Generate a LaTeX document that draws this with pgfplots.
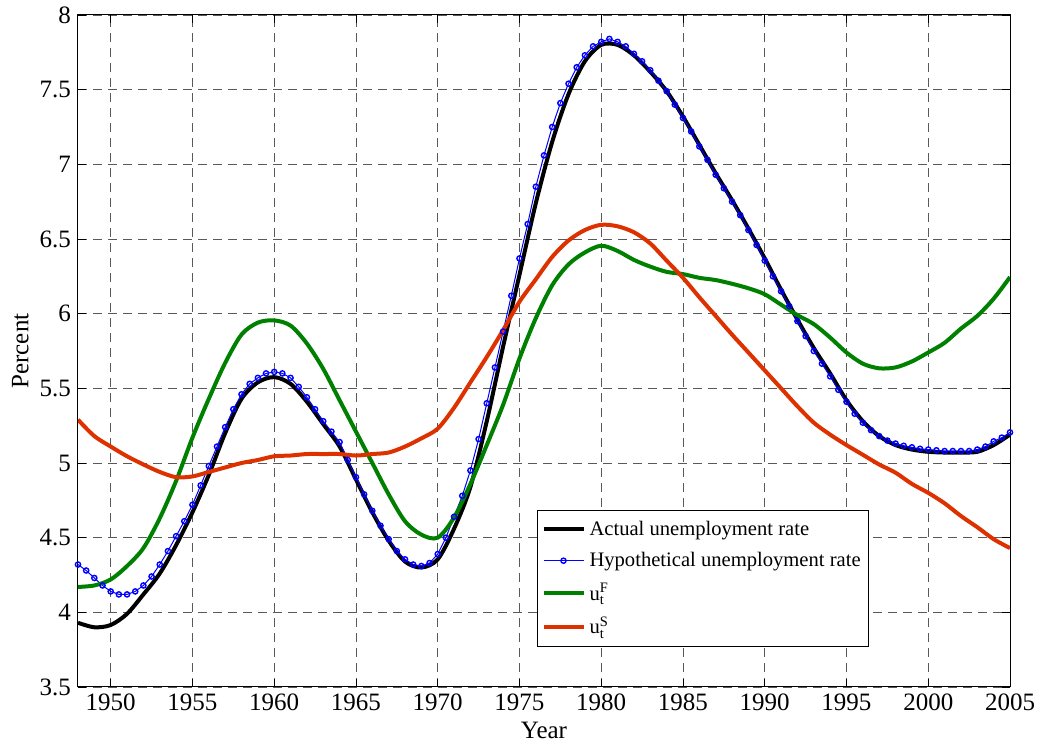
\documentclass[border=0pt]{standalone}
\usepackage{fontspec}
\setmainfont{Liberation Serif}
\usepackage{amsmath}
\usepackage{pgfplots}
\pgfplotsset{compat=1.18}
\usepackage{pgfplotstable}

\definecolor{ured}{RGB}{222,49,0}
\definecolor{ugreen}{RGB}{0,128,0}

% actual unemployment rate
\pgfplotstableread{
year val
1948 3.93
1949 3.90
1950 3.915
1951 3.99
1952 4.12
1953 4.26
1954 4.45
1955 4.67
1956 4.92
1957 5.20
1958 5.43
1959 5.54
1960 5.575
1961 5.53
1962 5.41
1963 5.26
1964 5.11
1965 4.89
1966 4.67
1967 4.48
1968 4.34
1969 4.30
1970 4.355
1971 4.56
1972 4.84
1973 5.28
1974 5.78
1975 6.26
1976 6.74
1977 7.15
1978 7.47
1979 7.69
1980 7.80
1981 7.80
1982 7.73
1983 7.62
1984 7.49
1985 7.32
1986 7.13
1987 6.94
1988 6.76
1989 6.57
1990 6.37
1991 6.16
1992 5.96
1993 5.77
1994 5.60
1995 5.42
1996 5.28
1997 5.18
1998 5.12
1999 5.09
2000 5.075
2001 5.07
2002 5.07
2003 5.075
2004 5.12
2005 5.19
}\actual

% hypothetical unemployment rate
\pgfplotstableread{
year val
1948.0 4.32
1948.5 4.28
1949.0 4.23
1949.5 4.18
1950.0 4.14
1950.5 4.12
1951.0 4.12
1951.5 4.14
1952.0 4.18
1952.5 4.24
1953.0 4.32
1953.5 4.41
1954.0 4.51
1954.5 4.61
1955.0 4.72
1955.5 4.85
1956.0 4.98
1956.5 5.11
1957.0 5.24
1957.5 5.36
1958.0 5.46
1958.5 5.53
1959.0 5.57
1959.5 5.60
1960.0 5.61
1960.5 5.60
1961.0 5.57
1961.5 5.51
1962.0 5.44
1962.5 5.36
1963.0 5.28
1963.5 5.21
1964.0 5.14
1964.5 5.02
1965.0 4.905
1965.5 4.79
1966.0 4.68
1966.5 4.58
1967.0 4.49
1967.5 4.41
1968.0 4.355
1968.5 4.32
1969.0 4.31
1969.5 4.33
1970.0 4.39
1970.5 4.50
1971.0 4.64
1971.5 4.78
1972.0 4.95
1972.5 5.16
1973.0 5.40
1973.5 5.64
1974.0 5.88
1974.5 6.12
1975.0 6.37
1975.5 6.60
1976.0 6.85
1976.5 7.06
1977.0 7.25
1977.5 7.41
1978.0 7.54
1978.5 7.65
1979.0 7.73
1979.5 7.79
1980.0 7.82
1980.5 7.84
1981.0 7.82
1981.5 7.79
1982.0 7.74
1982.5 7.69
1983.0 7.63
1983.5 7.56
1984.0 7.49
1984.5 7.40
1985.0 7.31
1985.5 7.22
1986.0 7.12
1986.5 7.03
1987.0 6.93
1987.5 6.84
1988.0 6.75
1988.5 6.66
1989.0 6.56
1989.5 6.46
1990.0 6.355
1990.5 6.25
1991.0 6.15
1991.5 6.05
1992.0 5.95
1992.5 5.85
1993.0 5.75
1993.5 5.665
1994.0 5.58
1994.5 5.49
1995.0 5.41
1995.5 5.33
1996.0 5.27
1996.5 5.22
1997.0 5.18
1997.5 5.15
1998.0 5.13
1998.5 5.115
1999.0 5.105
1999.5 5.095
2000.0 5.09
2000.5 5.085
2001.0 5.08
2001.5 5.08
2002.0 5.08
2002.5 5.08
2003.0 5.09
2003.5 5.11
2004.0 5.145
2004.5 5.17
2005.0 5.205
}\hypo

% u^F_t
\pgfplotstableread{
year val
1948 4.17
1949 4.18
1950 4.22
1951 4.31
1952 4.43
1953 4.63
1954 4.88
1955 5.17
1956 5.43
1957 5.67
1958 5.86
1959 5.94
1960 5.955
1961 5.92
1962 5.80
1963 5.63
1964 5.42
1965 5.21
1966 5.00
1967 4.79
1968 4.61
1969 4.52
1970 4.50
1971 4.635
1972 4.86
1973 5.12
1974 5.39
1975 5.70
1976 5.97
1977 6.19
1978 6.33
1979 6.41
1980 6.455
1981 6.42
1982 6.36
1983 6.315
1984 6.28
1985 6.265
1986 6.24
1987 6.225
1988 6.20
1989 6.17
1990 6.13
1991 6.06
1992 5.99
1993 5.93
1994 5.84
1995 5.74
1996 5.665
1997 5.634
1998 5.64
1999 5.68
2000 5.74
2001 5.805
2002 5.90
2003 5.985
2004 6.10
2005 6.245
}\uf

% u^S_t
\pgfplotstableread{
year val
1948 5.29
1949 5.18
1950 5.11
1951 5.045
1952 4.99
1953 4.94
1954 4.905
1955 4.91
1956 4.94
1957 4.97
1958 5.00
1959 5.02
1960 5.045
1961 5.05
1962 5.06
1963 5.06
1964 5.06
1965 5.05
1966 5.06
1967 5.07
1968 5.11
1969 5.165
1970 5.23
1971 5.37
1972 5.54
1973 5.71
1974 5.89
1975 6.08
1976 6.23
1977 6.38
1978 6.49
1979 6.56
1980 6.595
1981 6.585
1982 6.545
1983 6.47
1984 6.355
1985 6.24
1986 6.11
1987 5.985
1988 5.86
1989 5.74
1990 5.62
1991 5.50
1992 5.38
1993 5.27
1994 5.19
1995 5.12
1996 5.055
1997 4.99
1998 4.935
1999 4.86
2000 4.80
2001 4.73
2002 4.645
2003 4.57
2004 4.49
2005 4.43
}\us

\begin{document}
\begin{tikzpicture}
\begin{axis}[
  width=466pt, height=336pt, scale only axis,
  xmin=1948, xmax=2005, ymin=3.5, ymax=8,
  xtick={1950,1955,...,2005},
  ytick={3.5,4,4.5,5,5.5,6,6.5,7,7.5,8},
  /pgf/number format/assume math mode=true,
  x tick label style={/pgf/number format/1000 sep={}},
  tick label style={font=\fontsize{12.5}{14}\selectfont},
  label style={font=\fontsize{12.5}{14}\selectfont},
  tick align=inside, major tick length=4pt,
  tick style={black, line width=0.4pt},
  axis line style={line width=0.5pt},
  grid=major,
  major grid style={dash pattern=on 4.5pt off 3pt, draw=black!65, line width=0.4pt},
  xlabel={Year}, ylabel={Percent},
  xlabel style={at={(axis description cs:0.5,-0.064)}, anchor=center},
  ylabel style={at={(axis description cs:-0.062,0.5)}, anchor=center},
  legend style={at={(rel axis cs:0.4925,0.263)}, anchor=north west,
    draw=black, line width=0.5pt, fill=white,
    font=\fontsize{10.3}{12}\selectfont, row sep=3pt,
    inner xsep=2pt, inner ysep=3pt},
  legend image code/.code={%
    \draw[mark repeat=2, mark phase=2, #1]
      plot coordinates {(0pt,0pt) (10pt,0pt) (20pt,0pt)};},
  legend cell align=left,
]
\addplot[black, line width=2pt, smooth] table {\actual};
\addlegendentry{Actual unemployment rate}
\addplot[blue, line width=0.5pt, mark=o, mark size=1.3pt,
  mark options={line width=0.7pt}] table {\hypo};
\addlegendentry{Hypothetical unemployment rate\hspace{1pt}}
\addplot[ugreen, line width=2pt, smooth] table {\uf};
\addlegendentry{$\text{u}_{\text{t}}^{\text{F}}$}
\addplot[ured, line width=2pt, smooth] table {\us};
\addlegendentry{$\text{u}_{\text{t}}^{\text{S}}$}
\coordinate (sw) at (rel axis cs:0,0);
\coordinate (ne) at (rel axis cs:1,1);
\end{axis}
\pgfresetboundingbox
\path ([xshift=-39pt,yshift=-28pt]sw) rectangle ([xshift=14pt,yshift=7.5pt]ne);
\end{tikzpicture}
\end{document}
